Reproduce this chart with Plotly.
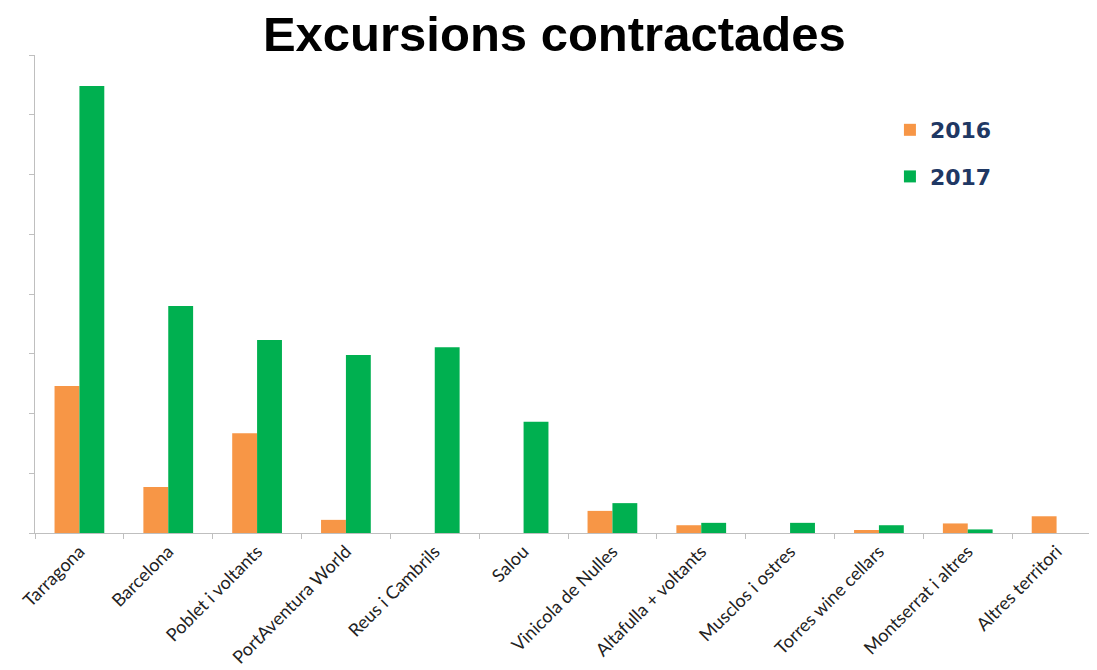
import plotly.graph_objects as go

categories = ["Tarragona", "Barcelona", "Poblet i voltants", "PortAventura World",
              "Reus i Cambrils", "Salou", "Vinicola de Nulles", "Altafulla + voltants",
              "Musclos i ostres", "Torres wine cellars", "Montserrat i altres", "Altres territori"]
values_2016 = [246, 77, 167, 22, 0, 0, 37, 13, 0, 5, 16, 28]
values_2017 = [748, 380, 323, 298, 311, 186, 50, 17, 17, 13, 6, 0]
series_names = ["2016", "2017"]
colors = ["#F79646", "#00B050"]

fig = go.Figure()
for name, vals, col in zip(series_names, [values_2016, values_2017], colors):
    fig.add_trace(go.Bar(x=categories, y=vals, name=name, marker_color=col,
                         marker_line_width=0, legendgroup=name))

fig.update_layout(
    width=1097, height=670,
    margin=dict(l=27, r=4, t=47, b=145, autoexpand=False),
    paper_bgcolor="white", plot_bgcolor="white",
    barmode="group", bargap=0.44, bargroupgap=0,
    title=dict(text="<b>Excursions contractades</b>", x=0.498, xanchor="center",
               y=0.962, yanchor="middle",
               font=dict(family="Liberation Sans", size=49, color="#000000")),
    legend=dict(x=0.802, y=0.887, xanchor="left", yanchor="top",
                font=dict(family="DejaVu Sans", size=22, color="#1F3864", weight="bold"),
                bgcolor="rgba(0,0,0,0)", tracegroupgap=15, traceorder="grouped"),
    showlegend=True,
)
fig.update_xaxes(range=[-0.5, 11.5], showline=True, linecolor="#BFBFBF", linewidth=1,
                 ticks="outside", tickson="boundaries", ticklen=5, tickcolor="#BFBFBF",
                 tickangle=-45, showgrid=False, automargin=False,
                 tickfont=dict(family="Lato", size=18, color="#222222"))
fig.update_yaxes(range=[0, 800], dtick=100, showline=True, linecolor="#BFBFBF", linewidth=1,
                 ticks="outside", ticklen=5, tickcolor="#BFBFBF", showticklabels=False,
                 showgrid=False, zeroline=False, automargin=False)

fig.write_html("out.html")
